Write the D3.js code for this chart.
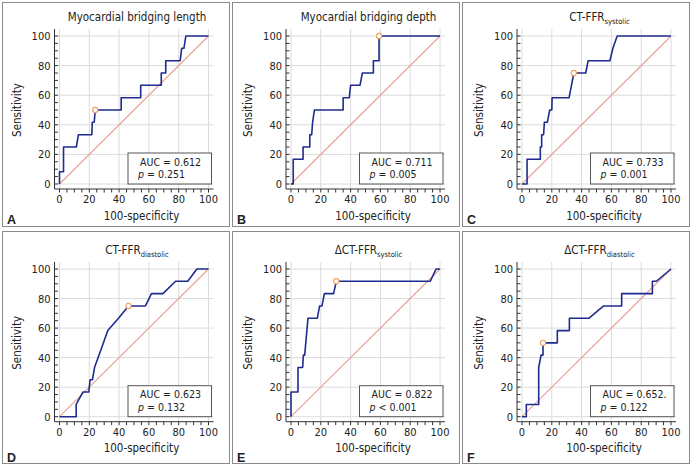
<!DOCTYPE html>
<html>
  <head>
    <meta charset="UTF-8" />
    <style>
      body { margin: 0; background: #fff; }
      svg text { font-family: 'Liberation Sans Narrow', 'DejaVu Sans Condensed', sans-serif; fill: #222; }
    </style>
  </head>
  <body>
    <svg></svg>

    <script src="https://d3js.org/d3.v7.min.js"></script>

    <script>
      let width = 693,
        height = 465

      // ROC points: 100-specificity (x), sensitivity (y)
      let fprA = [0, 0, 2.7, 2.7, 11.3, 12.7, 21.7, 22, 23.3, 24, 41.4, 41.4, 54.5, 54.5, 68.3, 68.3, 71.3, 71.3, 81, 82, 83.5, 84.8, 100]
      let tprA = [0, 8.3, 8.3, 25, 25, 33.3, 33.3, 41.7, 41.7, 50, 50, 58.3, 58.3, 66.7, 66.7, 75, 75, 83.3, 83.3, 91.7, 91.7, 100, 100]

      let fprB = [0, 1.5, 1.5, 8.1, 8.1, 12.6, 12.6, 13.9, 14.5, 15.7, 35, 35, 39.1, 40, 46.3, 47.9, 55.3, 55.3, 59.1, 59.1, 100]
      let tprB = [0, 0, 16.7, 16.7, 25, 25, 33.3, 33.3, 41.7, 50, 50, 58.3, 58.3, 66.7, 66.7, 75, 75, 83.3, 83.3, 100, 100]

      let fprC = [0, 3.4, 3.4, 12.3, 12.3, 13.2, 13.2, 14.5, 15, 17, 18.6, 20, 20.2, 31.6, 33.2, 34.8, 42.8, 44.4, 59, 61, 63.9, 100]
      let tprC = [0, 0, 16.7, 16.7, 25, 25, 33.3, 33.3, 41.7, 41.7, 50, 50, 58.3, 58.3, 66.7, 75, 75, 83.3, 83.3, 91.7, 100, 100]

      let fprD = [0, 11.2, 11.2, 15.7, 19.7, 20.5, 22.1, 23.5, 29.5, 32.4, 39.6, 46.3, 57.7, 61.7, 69.4, 77.9, 86.1, 92.2, 100]
      let tprD = [0, 0, 8.3, 16.7, 16.7, 25, 25, 33.3, 50, 58.3, 66.7, 75, 75, 83.3, 83.3, 91.7, 91.7, 100, 100]

      let fprE = [0, 0, 4.7, 4.7, 7.8, 8.3, 9.2, 11.4, 17.7, 19.2, 20.8, 22.4, 28.6, 30.4, 93.5, 97.3, 100]
      let tprE = [0, 16.7, 16.7, 33.3, 33.3, 41.7, 41.7, 66.7, 66.7, 75, 75, 83.3, 83.3, 91.7, 91.7, 100, 100]

      let fprF = [0, 2.9, 2.9, 11.2, 11.2, 12.8, 14.1, 14.1, 23.7, 23.7, 31.8, 31.8, 45, 54.8, 66.9, 66.9, 87.5, 87.5, 90.2, 100]
      let tprF = [0, 0, 8.3, 8.3, 33.3, 41.7, 41.7, 50, 50, 58.3, 58.3, 66.7, 66.7, 75, 75, 83.3, 83.3, 91.7, 91.7, 100]

      // optimal cut-off point (orange circle)
      let cutPoints = [[24, 50], [59.1, 100], [34.8, 75], [46.3, 75], [30.4, 91.7], [14.1, 50]]

      let letters = ['A', 'B', 'C', 'D', 'E', 'F']
      let titles = ['Myocardial bridging length', 'Myocardial bridging depth', 'CT-FFR', 'CT-FFR', '\u0394CT-FFR', '\u0394CT-FFR']
      let titleSubs = ['', '', 'systolic', 'diastolic', 'systolic', 'diastolic']
      let aucLabels = ['0.612', '0.711', '0.733', '0.623', '0.822', '0.652.']
      let pLabels = ['= 0.251', '= 0.005', '= 0.001', '= 0.132', '< 0.001', '= 0.122']
      let tickValues = [0, 20, 40, 60, 80, 100]

      let fprs = [fprA, fprB, fprC, fprD, fprE, fprF]
      let tprs = [tprA, tprB, tprC, tprD, tprE, tprF]

      let svg = d3.select('svg').attr('width', width).attr('height', height)

      // layout of the 3 x 2 grid
      let panelX = [2, 232, 462]
      let plotX0 = [59.5, 291, 522]
      let rows = [
        { top: 2, h: 224, y100: 36, y0: 184, letterDy: 40 },
        { top: 231, h: 232, y100: 269, y0: 416.7, letterDy: 45.3 },
      ]

      letters.forEach((letter, i) => {
        let col = i % 3,
          row = rows[Math.floor(i / 3)]
        let x = d3.scaleLinear().domain([0, 100]).range([plotX0[col], plotX0[col] + 149])
        let y = d3.scaleLinear().domain([0, 100]).range([row.y0, row.y100])
        let g = svg.append('g')

        // panel frame
        g.append('rect')
          .attr('x', panelX[col] + 0.5)
          .attr('y', row.top + 0.5)
          .attr('width', 227)
          .attr('height', row.h)
          .attr('fill', 'none')
          .attr('stroke', '#8a8a8a')

        // grid
        g.selectAll('.gx')
          .data(tickValues)
          .enter()
          .append('line')
          .attr('x1', (d) => x(d))
          .attr('x2', (d) => x(d))
          .attr('y1', y(100) - 7)
          .attr('y2', y(0) + 5)
          .attr('stroke', '#dcdcdc')
        g.selectAll('.gy')
          .data(tickValues)
          .enter()
          .append('line')
          .attr('x1', x(0) - 5)
          .attr('x2', x(100) + 5)
          .attr('y1', (d) => y(d))
          .attr('y2', (d) => y(d))
          .attr('stroke', '#dcdcdc')

        // axes, detached from the plot area
        let minor = d3.range(0, 101, 5)
        g.append('line')
          .attr('x1', x(0) - 5)
          .attr('x2', x(0) - 5)
          .attr('y1', y(100) - 7)
          .attr('y2', y(0) + 5)
          .attr('stroke', '#333')
        g.append('line')
          .attr('x1', x(0) - 5)
          .attr('x2', x(100) + 5)
          .attr('y1', y(0) + 5)
          .attr('y2', y(0) + 5)
          .attr('stroke', '#333')
        g.selectAll('.ty')
          .data(minor)
          .enter()
          .append('line')
          .attr('x1', x(0) - 5)
          .attr('x2', x(0) - 1.5)
          .attr('y1', (d) => y(d))
          .attr('y2', (d) => y(d))
          .attr('stroke', '#333')
        g.selectAll('.tx')
          .data(minor)
          .enter()
          .append('line')
          .attr('x1', (d) => x(d))
          .attr('x2', (d) => x(d))
          .attr('y1', y(0) + 5)
          .attr('y2', y(0) + 8.5)
          .attr('stroke', '#333')

        g.selectAll('.ly')
          .data(tickValues)
          .enter()
          .append('text')
          .attr('x', x(0) - 9)
          .attr('y', (d) => y(d) + 4)
          .attr('text-anchor', 'end')
          .style('font-size', '11px')
          .text((d) => d)
        g.selectAll('.lx')
          .data(tickValues)
          .enter()
          .append('text')
          .attr('x', (d) => x(d))
          .attr('y', y(0) + 19)
          .attr('text-anchor', 'middle')
          .style('font-size', '11px')
          .text((d) => d)

        // reference diagonal
        g.append('path')
          .datum([[0, 0], [100, 100]])
          .attr('fill', 'none')
          .attr('stroke', '#e8a096')
          .attr('stroke-width', 1.1)
          .attr('d', d3.line().x((d) => x(d[0])).y((d) => y(d[1])))

        // ROC curve
        let pts = fprs[i].map((f, k) => [f, tprs[i][k]])
        g.append('path')
          .datum(pts)
          .attr('fill', 'none')
          .attr('stroke', '#1f2b8f')
          .attr('stroke-width', 1.6)
          .attr('stroke-linejoin', 'round')
          .attr('d', d3.line().x((d) => x(d[0])).y((d) => y(d[1])))

        g.append('circle')
          .attr('cx', x(cutPoints[i][0]))
          .attr('cy', y(cutPoints[i][1]))
          .attr('r', 2.6)
          .attr('fill', '#fff')
          .attr('stroke', '#f0a060')
          .attr('stroke-width', 1.1)

        // AUC box
        let bx = x(0) + 68.5,
          by = y(0) - 31
        g.append('rect')
          .attr('x', bx)
          .attr('y', by)
          .attr('width', x(100) + 3 - bx)
          .attr('height', 31)
          .attr('fill', '#fff')
          .attr('stroke', '#555')
        g.append('text')
          .attr('x', bx + 12)
          .attr('y', by + 12.5)
          .style('font-size', '10.5px')
          .text('AUC = ' + aucLabels[i])
        let pt = g.append('text')
          .attr('x', bx + 10)
          .attr('y', by + 25)
          .style('font-size', '10.5px')
        pt.append('tspan').style('font-style', 'italic').text('p')
        pt.append('tspan').text(' ' + pLabels[i])

        // title
        let t = g.append('text')
          .attr('x', x(0) + 77.5)
          .attr('y', y(100) - 15)
          .attr('text-anchor', 'middle')
          .style('font-size', '11.5px')
        t.append('tspan').text(titles[i])
        if (titleSubs[i]) {
          t.append('tspan').attr('dy', 2.5).style('font-size', '7.5px').text(titleSubs[i])
        }

        g.append('text')
          .attr('x', x(0) + 82)
          .attr('y', y(0) + 35.5)
          .attr('text-anchor', 'middle')
          .style('font-size', '11.5px')
          .text('100-specificity')
        g.append('text')
          .attr('transform', 'translate(' + (x(0) - 39) + ',' + (row.y0 + row.y100) / 2 + ') rotate(-90)')
          .attr('text-anchor', 'middle')
          .style('font-size', '11.5px')
          .text('Sensitivity')

        g.append('text')
          .attr('x', panelX[col] + 5)
          .attr('y', row.y0 + row.letterDy)
          .style('font-size', '12.5px')
          .style('font-weight', 'bold')
          .style('font-family', "'Liberation Sans', sans-serif")
          .text(letter)
      })
    </script>
  </body>
</html>
